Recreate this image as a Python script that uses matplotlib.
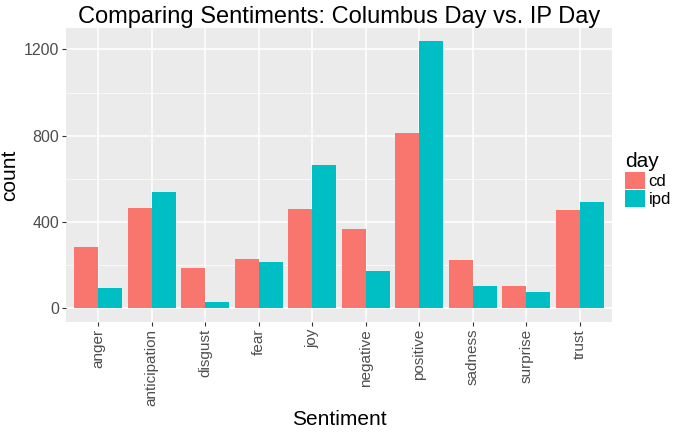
import matplotlib
matplotlib.use("Agg")
import matplotlib.pyplot as plt
import numpy as np

plt.rcParams["font.family"] = ["Liberation Sans", "DejaVu Sans"]

# ---- data ----
sentiments = ["anger", "anticipation", "disgust", "fear", "joy",
              "negative", "positive", "sadness", "surprise", "trust"]
cd = [286, 464, 188, 229, 461, 366, 815, 223, 105, 455]
ipd = [94, 541, 31, 215, 666, 172, 1237, 105, 78, 492]
days = ["cd", "ipd"]

C_CD = "#F8766D"
C_IPD = "#00BFC4"
GRAY = "#4D4D4D"

fig = plt.figure(figsize=(6.8, 4.32), dpi=100)
ax = fig.add_axes([0.097, 0.255, 0.803, 0.68])
ax.set_facecolor("#EBEBEB")

x = np.arange(len(sentiments))
w = 0.45
ax.bar(x - w / 2, cd, width=w, color=C_CD, label=days[0], zorder=3)
ax.bar(x + w / 2, ipd, width=w, color=C_IPD, label=days[1], zorder=3)

ymax = max(max(cd), max(ipd))
ax.set_xlim(-0.6, len(sentiments) - 0.4)
ax.set_ylim(-0.05 * ymax, ymax * 1.05)

ax.set_yticks([0, 400, 800, 1200])
ax.set_yticks([200, 600, 1000], minor=True)
ax.set_xticks(x)
ax.set_xticklabels(sentiments, rotation=90)
ax.grid(which="major", color="white", linewidth=1.1, zorder=0)
ax.grid(which="minor", axis="y", color="white", linewidth=0.5, zorder=0)
ax.set_axisbelow(True)
ax.tick_params(which="major", color="#333333", length=3, width=0.8,
               labelsize=11.5, labelcolor=GRAY, pad=2)
ax.tick_params(axis="x", labelsize=11)
ax.tick_params(which="minor", length=0)
for s in ax.spines.values():
    s.set_visible(False)

ax.set_xlabel("Sentiment", fontsize=15)
ax.set_ylabel("count", fontsize=15)
ax.xaxis.set_label_coords(0.5, -0.3)
ax.yaxis.set_label_coords(-0.085, 0.5)
ax.set_title("Comparing Sentiments: Columbus Day vs. IP Day", fontsize=17, pad=4)

leg = ax.legend(title="day", loc="center left", bbox_to_anchor=(1.0, 0.485),
                frameon=False, fontsize=12, title_fontsize=15,
                handlelength=1.2, handleheight=1.2, handletextpad=0.2,
                labelspacing=0.05, borderaxespad=0.4)
leg._legend_box.align = "left"

fig.savefig("out.png", dpi=100, facecolor="white")
